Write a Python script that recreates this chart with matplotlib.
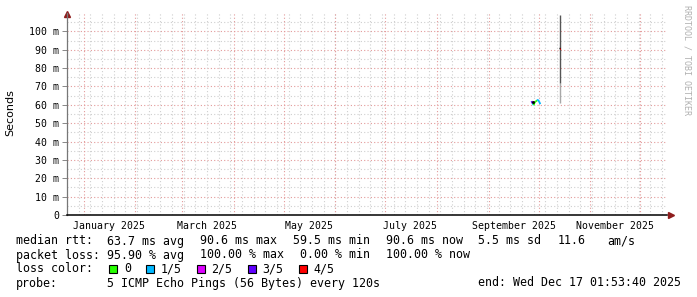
import matplotlib
matplotlib.use("Agg")
import matplotlib.pyplot as plt
from matplotlib.patches import Rectangle
import matplotlib.transforms as mtransforms
from datetime import datetime, timedelta

# --- données ---
end_time = datetime(2025, 12, 17, 1, 53, 40)
span_days = 360

# médiane (ms) et perte (sur 5) autour de fin septembre
med_dates = ["2025-09-26 18:00", "2025-09-27 10:00", "2025-09-28 02:00", "2025-09-28 18:00",
             "2025-09-29 10:00", "2025-09-30 02:00", "2025-09-30 18:00", "2025-10-01 10:00",
             "2025-10-02 02:00"]
med_ms = [62.0, 60.8, 59.8, 61.6, 61.8, 62.4, 62.8, 61.6, 60.4]
med_loss = [3, 3, 1, 0, 0, 0, 1, 1, 1]

# colonne de fumée (min / séparation / max) et médiane à 4/5 de perte
smoke_date = "2025-10-14 00:00"
smoke_min, smoke_mid, smoke_max = 60.9, 71.7, 108.7
spike_median = 90.6
spike_loss = 4

loss_colors = ["#26ff00", "#00b8ff", "#dd00ff", "#6000ff", "#ff0000"]
loss_labels = ["0", "1/5", "2/5", "3/5", "4/5"]

y_ticks = [0, 10, 20, 30, 40, 50, 60, 70, 80, 90, 100]
y_ticklabels = ["0"] + [f"{v} m" for v in y_ticks[1:]]
x_label_dates = ["2025-01-16", "2025-03-16", "2025-05-16", "2025-07-16", "2025-09-16", "2025-11-16"]
x_labels = ["January 2025", "March 2025", "May 2025", "July 2025", "September 2025", "November 2025"]

legend_lines = [
    (241, [(16, "median rtt:"), (107, "63.7 ms avg"), (200, "90.6 ms max"), (293, "59.5 ms min"),
           (386, "90.6 ms now"), (478, "5.5 ms sd"), (558, "11.6"), (607, "am/s")]),
    (255, [(16, "packet loss:"), (107, "95.90 % avg"), (200, "100.00 % max"), (300, "0.00 % min"),
           (386, "100.00 % now")]),
    (283, [(16, "probe:"), (107, "5 ICMP Echo Pings (56 Bytes) every 120s"),
           (478, "end: Wed Dec 17 01:53:40 2025")]),
]
box_x = [109, 145.5, 196.5, 247.5, 298.5]

W, H = 697, 297
mono = "DejaVu Sans Mono"

fig = plt.figure(figsize=(W / 100, H / 100), dpi=100)
fig.patch.set_facecolor("white")
ax = fig.add_axes([67 / W, 1 - 215 / H, (667 - 67) / W, (215 - 13) / H])

start_time = end_time - timedelta(days=span_days)
ax.set_xlim(start_time, end_time)
ax.set_ylim(0, 110)

# grille
grid_minor = dict(color="#cfcfcf", lw=0.8, ls=(0, (1, 2)), zorder=0)
grid_major = dict(color="#e39a9a", lw=0.8, ls=(0, (1, 2)), zorder=0)
for v in range(5, 110, 10):
    ax.axhline(v, **grid_minor)
for v in range(10, 110, 10):
    ax.axhline(v, **grid_major)
d = datetime(2024, 12, 29)
while d < end_time:
    if d > start_time:
        ax.axvline(d, **grid_minor)
    d += timedelta(days=7)
for m in range(1, 13):
    ax.axvline(datetime(2025, m, 1), **grid_major)

# médiane colorée selon la perte
mdts = [datetime.strptime(s, "%Y-%m-%d %H:%M") for s in med_dates]
for i in range(1, len(mdts)):
    ax.plot(mdts[i - 1:i + 1], med_ms[i - 1:i + 1], color=loss_colors[med_loss[i]],
            lw=1.3, solid_capstyle="butt", zorder=3)
ax.plot(mdts[1], med_ms[1] + 0.8, marker="s", ms=1.0, color="black", zorder=4)

# fumée
sd = datetime.strptime(smoke_date, "%Y-%m-%d %H:%M")
ax.vlines(sd, smoke_min, smoke_mid, color="#a8a8a8", lw=1.0, zorder=2)
ax.vlines(sd, smoke_mid, smoke_max, color="#555555", lw=1.0, zorder=2)
ax.plot([sd - timedelta(hours=8), sd + timedelta(hours=8)], [spike_median, spike_median],
        color=loss_colors[spike_loss], lw=1.2, solid_capstyle="butt", zorder=3)
ax.plot([sd - timedelta(hours=22), sd - timedelta(hours=8)], [spike_median + 0.5] * 2,
        color="black", lw=1.0, solid_capstyle="butt", zorder=3)

# axes
for s in ["top", "right"]:
    ax.spines[s].set_visible(False)
ax.spines["left"].set_color("#777777")
ax.spines["left"].set_linewidth(0.9)
ax.spines["bottom"].set_color("black")
ax.spines["bottom"].set_linewidth(1.1)

ax.set_yticks(y_ticks)
ax.set_yticklabels(y_ticklabels, family=mono, fontsize=7.1)
ax.tick_params(axis="y", length=3.6, width=0.7, color="#888888", pad=2)
ax.set_xticks([datetime.strptime(s, "%Y-%m-%d") for s in x_label_dates])
ax.set_xticklabels(x_labels, family=mono, fontsize=7.1)
ax.tick_params(axis="x", length=0, pad=4)

arrow_col = "#8e1c1c"
up = mtransforms.offset_copy(ax.transAxes, fig=fig, x=0, y=-0.5, units="dots")
ax.plot(0, 1, marker="^", ms=4.0, color=arrow_col, transform=up, clip_on=False)
rt = mtransforms.offset_copy(ax.transAxes, fig=fig, x=4, y=0, units="dots")
ax.plot(1, 0, marker=">", ms=4.0, color=arrow_col, transform=rt, clip_on=False)

fig.text(10 / W, 1 - 113 / H, "Seconds", rotation=90, ha="center", va="center", fontsize=8)
fig.text(687 / W, 1 - 5 / H, "RRDTOOL / TOBI OETIKER", rotation=270, ha="center", va="top",
         fontsize=6, family=mono, color="#b0b0b0")

# légende
for y, items in legend_lines:
    for x, t in items:
        fig.text(x / W, 1 - y / H, t, ha="left", va="center", family=mono, fontsize=8.35)
fig.text(16 / W, 1 - 269 / H, "loss color:", ha="left", va="center", family=mono, fontsize=8.35)
for bx, c, lab in zip(box_x, loss_colors, loss_labels):
    fig.add_artist(Rectangle((bx / W, 1 - 273 / H), 8 / W, 8.5 / H, transform=fig.transFigure,
                             facecolor=c, edgecolor="black", lw=0.8))
    fig.text((bx + 15) / W, 1 - 269 / H, lab, ha="left", va="center", family=mono, fontsize=8.35)

fig.savefig("out.png", dpi=100)
